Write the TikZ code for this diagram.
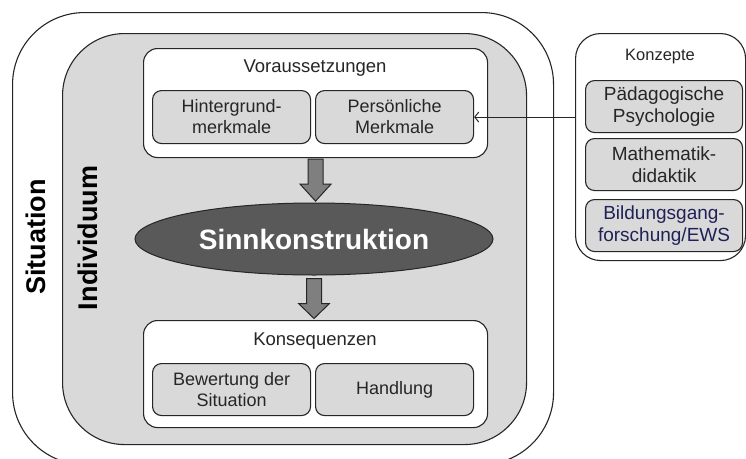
\documentclass[tikz,border=0pt]{standalone}
\usepackage{fontspec}
\setmainfont{Liberation Sans}
\usetikzlibrary{arrows.meta,shapes.geometric,calc}
\definecolor{lc}{HTML}{262626}
\definecolor{gbg}{HTML}{D9D9D9}
\definecolor{dk}{HTML}{595959}
\definecolor{ar}{HTML}{7F7F7F}
\definecolor{navy}{HTML}{1F2256}
\begin{document}
\begin{tikzpicture}[x=1pt,y=-1pt,
  frame/.style={draw=lc, line width=1.1pt, rectangle, inner sep=0pt, anchor=north west},
  subbox/.style={draw=lc, line width=1.1pt, rectangle, fill=gbg, rounded corners=9pt,
    inner sep=0pt, anchor=north west, align=center, text=lc,
    font=\fontsize{18}{21}\selectfont},
  kbox/.style={subbox, minimum width=157pt, minimum height=52pt,
    font=\fontsize{19}{21.5}\selectfont},
  hdr/.style={text=lc, inner sep=0pt, font=\fontsize{18.5}{21}\selectfont},
  blockarrow/.style={draw=lc, line width=1pt, fill=ar, line join=miter},
  biglabel/.style={rotate=90, anchor=base, inner sep=0pt, text=black,
    font=\bfseries\fontsize{27}{32}\selectfont}]
\useasboundingbox (0,0) rectangle (746,458);
\clip (0,0) rectangle (746,458);
\fill[white] (0,0) rectangle (746,458);

% Situation (outer)
\node[frame, rounded corners=72pt, minimum width=541pt, minimum height=452pt] (sit) at (12,12) {};
% Individuum (grey)
\node[frame, fill=gbg, rounded corners=62pt, minimum width=464pt, minimum height=411pt] (ind) at (62,33) {};

\node[biglabel] (sitlabel) at (45,237) {Situation};
\node[biglabel] (indlabel) at (97,238) {Individuum};

% Voraussetzungen
\node[frame, fill=white, rounded corners=14pt, minimum width=344pt, minimum height=109pt] (vor) at (143,48) {};
\node[hdr] (vortitle) at (315,68) {Voraussetzungen};
\node[subbox, minimum width=158pt, minimum height=53pt] (hint) at (152,90) {Hintergrund-\\merkmale};
\node[subbox, minimum width=158pt, minimum height=53pt] (pers) at (315,90) {Persönliche\\Merkmale};

% Sinnkonstruktion
\node[ellipse, draw=lc, line width=1pt, fill=dk, minimum width=358pt, minimum height=72pt,
  inner sep=0pt, text=white, font=\bfseries\fontsize{28}{33}\selectfont] (sinn) at (314,239) {Sinnkonstruktion};

% Konsequenzen
\node[frame, fill=white, rounded corners=14pt, minimum width=344pt, minimum height=107pt] (kons) at (143,320) {};
\node[hdr] (konstitle) at (315,341) {Konsequenzen};
\node[subbox, minimum width=158pt, minimum height=52pt] (bew) at (152,363) {Bewertung der\\Situation};
\node[subbox, minimum width=158pt, minimum height=52pt] (hand) at (315,363) {Handlung};

% block arrows
\draw[blockarrow] ($(vor.south)+(-7.5,1)$) -- ++(15,0) -- ++(0,25) -- ++(8,0)
  -- ++(-15.5,17) -- ++(-15.5,-17) -- ++(8,0) -- cycle;
\draw[blockarrow] ($(sinn.south)+(-7.5,3)$) -- ++(15,0) -- ++(0,25) -- ++(8,0)
  -- ++(-15.5,15) -- ++(-15.5,-15) -- ++(8,0) -- cycle;

% Konzepte
\node[frame, fill=white, rounded corners=25pt, minimum width=170pt, minimum height=227pt] (konz) at (575,33) {};
\node[text=lc, inner sep=0pt, font=\fontsize{16.5}{20}\selectfont] (konztitle) at (660,57) {Konzepte};
\node[kbox] (paed) at (585,80) {Pädagogische\\Psychologie};
\node[kbox] (mathd) at (585,138) {Mathematik-\\didaktik};
\node[kbox, text=navy] (bild) at (585,199) {Bildungsgang-\\forschung/EWS};

% connector
\draw[lc, line width=1pt, -{Straight Barb[length=4pt,width=10pt]}] (pers.east -| konz.west) -- (pers.east);
\end{tikzpicture}
\end{document}
